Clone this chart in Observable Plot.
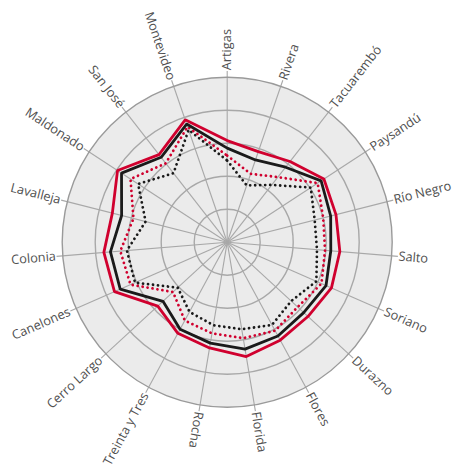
<!DOCTYPE html>
<html><head><meta charset="utf-8">
<script src="https://cdn.jsdelivr.net/npm/d3@7"></script>
<script src="https://cdn.jsdelivr.net/npm/@observablehq/plot@0.6"></script>
<style>body{margin:0;background:#fff}</style>
</head><body><div id="chart"></div>
<script>
const departments = ["Artigas","Rivera","Tacuarembó","Paysandú","Río Negro","Salto","Soriano","Durazno","Flores","Florida","Rocha","Treinta y Tres","Cerro Largo","Canelones","Colonia","Lavalleja","Maldonado","San José","Montevideo"];
const redSolid   = [61.6, 58.0, 62.0, 70.0, 68.0, 68.5, 69.0, 66.5, 67.5, 70.3, 65.0, 62.8, 57.2, 74.6, 75.0, 71.8, 79.4, 67.3, 78.4];
const blackSolid = [57.0, 52.7, 57.6, 68.0, 64.7, 63.0, 65.4, 63.0, 64.6, 65.7, 62.0, 60.0, 52.9, 70.8, 71.0, 66.0, 76.5, 65.2, 75.7];
const redDotted  = [52.5, 43.8, 50.0, 65.5, 60.0, 59.5, 62.4, 58.0, 61.0, 59.0, 56.0, 54.0, 44.6, 64.0, 65.0, 58.6, 70.0, 60.6, 74.0];
const blackDotted= [49.5, 36.4, 44.0, 60.5, 54.7, 54.6, 59.0, 52.7, 57.0, 53.5, 51.0, 48.0, 40.7, 61.0, 61.0, 51.0, 64.5, 53.0, 72.0];
const ringLevels = [20, 40, 60, 80, 100];

const W = 455, H = 467, CX = 226.7, CY = 241.7, R = 165;
const k = R / 100;
const n = departments.length;
const angle = i => i * 360 / n;
const rad = a => a * Math.PI / 180;
const px = (v, a) => v * Math.sin(rad(a));
const py = (v, a) => v * Math.cos(rad(a));

const RED = "#d0002e", BLACK = "#1a1a1a";
const series = [
  {name: "blackDotted", values: blackDotted, stroke: BLACK, dash: "0.01,5"},
  {name: "redDotted", values: redDotted, stroke: RED, dash: "0.01,5"},
  {name: "blackSolid", values: blackSolid, stroke: BLACK, dash: null},
  {name: "redSolid", values: redSolid, stroke: RED, dash: null}
];
const toPoints = s => s.values.map((v, i) => ({dept: departments[i], x: px(v, angle(i)), y: py(v, angle(i))}));
const axes = departments.map((d, i) => ({name: d, a: angle(i)}));
const SPOKE = 103.8, LABEL = 104.2;

const chart = Plot.plot({
  width: W, height: H, margin: 0,
  x: {domain: [-CX / k, (W - CX) / k], axis: null},
  y: {domain: [-(H - CY) / k, CY / k], axis: null},
  r: {type: "linear", domain: [0, 100], range: [0, R]},
  style: {fontFamily: "'Open Sans', sans-serif", fontSize: "12.8px", background: "#fff"},
  marks: [
    Plot.dot([100], {x: () => 0, y: () => 0, r: d => d, fill: "#ebebeb", stroke: "none"}),
    Plot.link(axes, {x1: () => 0, y1: () => 0, x2: d => px(SPOKE, d.a), y2: d => py(SPOKE, d.a), stroke: "#a8a8a8", strokeWidth: 1.1}),
    Plot.dot(ringLevels, {x: () => 0, y: () => 0, r: d => d, fill: "none", stroke: d => d === 100 ? "#9a9a9a" : "#a8a8a8", strokeWidth: 1.4}),
    ...series.map(s => Plot.line(toPoints(s), {x: "x", y: "y", curve: "linear-closed", stroke: s.stroke, strokeWidth: s.dash ? 2.8 : 2.8, strokeDasharray: s.dash || undefined, strokeLinecap: s.dash ? "round" : "butt", strokeLinejoin: "miter"})),
    Plot.text(axes.filter(d => d.a < 200), {x: d => px(LABEL, d.a), y: d => py(LABEL, d.a), text: "name", rotate: d => d.a - 90, textAnchor: "start", fill: "#505050"}),
    Plot.text(axes.filter(d => d.a >= 200), {x: d => px(LABEL, d.a), y: d => py(LABEL, d.a), text: "name", rotate: d => d.a - 270, textAnchor: "end", fill: "#505050"})
  ]
});
document.getElementById("chart").appendChild(chart);
</script>
</body></html>
